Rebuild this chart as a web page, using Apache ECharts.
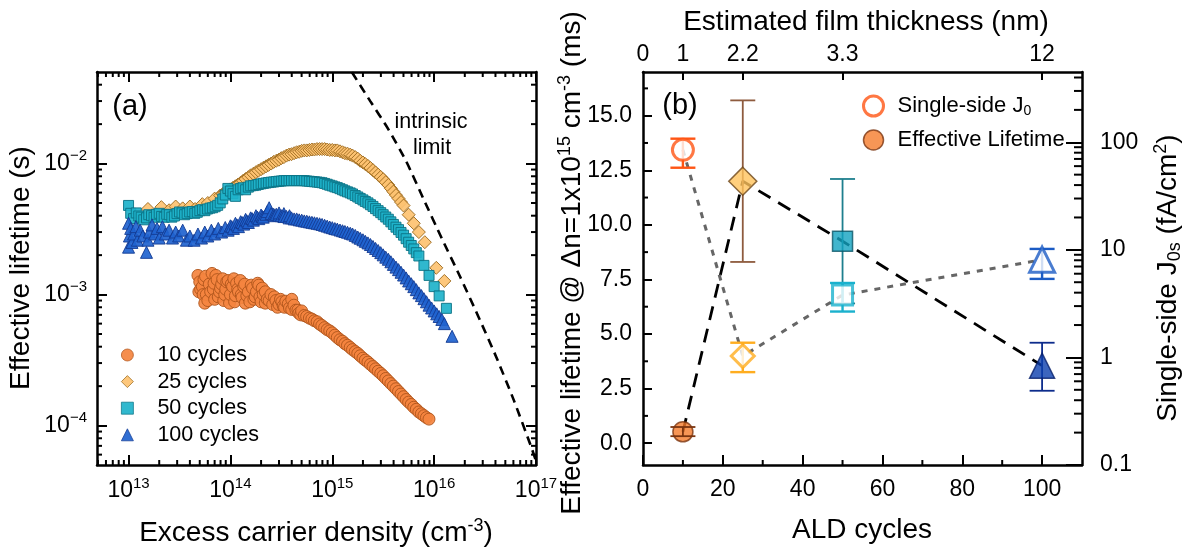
<!DOCTYPE html>
<html><head><meta charset="utf-8">
<script src="https://cdn.jsdelivr.net/npm/echarts@6.0.0/dist/echarts.min.js"></script>
<style>html,body{margin:0;padding:0;background:#fff}#c{width:1184px;height:553px}</style>
</head><body><div id="c"></div>
<script>
// ---------------- Panel (a): lifetime vs excess carrier density ----------------
const x10 = [4.8e13,4.9e13,5.0e13,5.3e13,5.5e13,5.6e13,5.8e13,6.2e13,6.6e13,6.8e13,7.0e13,7.4e13,7.8e13,8.2e13,8.6e13,9.0e13,9.5e13,1.0e14,1.05e14,1.1e14,1.15e14,1.2e14,1.3e14,1.35e14,1.4e14,1.5e14,1.6e14,1.7e14,1.8e14,1.9e14,2.0e14,2.1e14,2.3e14,2.5e14,2.6e14,2.8e14,3.0e14,3.2e14,3.4e14,3.7e14,4.0e14,4.0e14,4.4e14,4.7e14,5.0e14,5.6e14,6.3e14,7.1e14,7.9e14,8.9e14,1.0e15,1.12e15,1.26e15,1.41e15,1.58e15,1.78e15,2.0e15,2.24e15,2.51e15,2.82e15,3.16e15,3.55e15,3.98e15,4.47e15,5.01e15,5.62e15,6.31e15,7.08e15,7.94e15,8.9e15,
  5.1e13,5.4e13,5.7e13,6.0e13,6.4e13,6.9e13,7.2e13,7.6e13,8.0e13,8.4e13,8.8e13,9.2e13,9.8e13,1.02e14,1.08e14,1.12e14,1.18e14,1.25e14,1.28e14,1.38e14,1.45e14,1.55e14,1.65e14,1.75e14,1.85e14,1.95e14,2.05e14,2.2e14,2.2e14,2.4e14,2.7e14,2.9e14,3.1e14,3.3e14,3.5e14,3.8e14,4.2e14,4.6e14,4.9e14,
  5.31e14,5.96e14,6.68e14,7.50e14,8.41e14,9.44e14,1.06e15,1.19e15,1.33e15,1.50e15,1.68e15,1.88e15,2.11e15,2.37e15,2.66e15,2.99e15,3.35e15,3.76e15,4.22e15,4.73e15,5.31e15,5.96e15,6.68e15,7.50e15,8.41e15];
const y10 = [1.40e-3,1.05e-3,1.25e-3,1.15e-3,1.30e-3,8.6e-4,1.00e-3,1.20e-3,1.45e-3,1.10e-3,9.2e-4,1.30e-3,1.05e-3,1.20e-3,9.0e-4,1.10e-3,1.28e-3,1.00e-3,1.15e-3,8.8e-4,1.22e-3,1.05e-3,9.5e-4,1.15e-3,8.6e-4,1.05e-3,1.18e-3,9.2e-4,1.05e-3,1.18e-3,8.8e-4,1.00e-3,9.2e-4,1.00e-3,8.4e-4,9.0e-4,8.4e-4,8.8e-4,8.0e-4,8.5e-4,9.2e-4,7.7e-4,7.6e-4,7.2e-4,7.5e-4,6.8e-4,6.5e-4,6.2e-4,5.8e-4,5.4e-4,5.1e-4,4.7e-4,4.4e-4,4.1e-4,3.8e-4,3.55e-4,3.27e-4,3.05e-4,2.82e-4,2.6e-4,2.4e-4,2.19e-4,2.0e-4,1.82e-4,1.66e-4,1.51e-4,1.38e-4,1.27e-4,1.19e-4,1.12e-4,
  1.1e-3,1.0e-3,1.38e-3,9.0e-4,1.05e-3,1.22e-3,1.4e-3,9.6e-4,1.12e-3,1.32e-3,1.0e-3,1.25e-3,8.6e-4,1.2e-3,1.32e-3,9.8e-4,1.1e-3,1.28e-3,1.0e-3,1.2e-3,9.8e-4,8.8e-4,1.12e-3,9.6e-4,1.22e-3,9.6e-4,1.12e-3,8.6e-4,1.05e-3,9.0e-4,9.6e-4,8.0e-4,9.2e-4,8.2e-4,8.9e-4,7.9e-4,8.3e-4,7.6e-4,7.0e-4,
  6.92e-4,6.61e-4,6.31e-4,5.96e-4,5.59e-4,5.28e-4,4.90e-4,4.52e-4,4.22e-4,3.94e-4,3.67e-4,3.41e-4,3.16e-4,2.93e-4,2.71e-4,2.50e-4,2.29e-4,2.09e-4,1.91e-4,1.74e-4,1.58e-4,1.45e-4,1.33e-4,1.23e-4,1.15e-4];

const x25 = [1.55e13,2.1e13,2.5e13,2.9e13,3.4e13,4.0e13,4.5e13,5.3e13,6.0e13,7.0e13,7.94e13,8.91e13,1.0e14,1.12e14,1.26e14,1.41e14,1.58e14,1.78e14,2.0e14,2.24e14,2.51e14,2.82e14,3.16e14,3.55e14,3.98e14,4.47e14,5.01e14,5.62e14,6.31e14,7.08e14,7.94e14,8.91e14,1.0e15,1.12e15,1.26e15,1.41e15,1.58e15,1.78e15,2.0e15,2.24e15,2.51e15,2.82e15,3.16e15,3.55e15,3.98e15,4.47e15,5.01e15,5.62e15,6.31e15,7.08e15,8.1e15,1.05e16,1.26e16,
  8.41e13,9.44e13,1.06e14,1.19e14,1.33e14,1.50e14,1.68e14,1.88e14,2.11e14,2.37e14,2.66e14,2.99e14,3.35e14,3.76e14,4.22e14,4.73e14,5.31e14,5.96e14,6.68e14,7.50e14,8.41e14,9.44e14,1.06e15,1.19e15,1.33e15,1.50e15,1.68e15,1.88e15,2.11e15,2.37e15,2.66e15,2.99e15,3.35e15,3.76e15,4.22e15,4.73e15];
const y25 = [4.5e-3,4.65e-3,4.4e-3,4.7e-3,4.55e-3,4.7e-3,4.5e-3,4.9e-3,5.0e-3,5.4e-3,5.70e-3,6.03e-3,6.35e-3,6.71e-3,7.14e-3,7.62e-3,8.13e-3,8.59e-3,9.06e-3,9.53e-3,1.0e-2,1.05e-2,1.10e-2,1.15e-2,1.18e-2,1.22e-2,1.25e-2,1.26e-2,1.28e-2,1.29e-2,1.29e-2,1.28e-2,1.27e-2,1.26e-2,1.22e-2,1.19e-2,1.15e-2,1.09e-2,1.02e-2,9.59e-3,8.91e-3,8.22e-3,7.59e-3,6.87e-3,6.10e-3,5.41e-3,4.78e-3,4.07e-3,3.50e-3,3.00e-3,2.51e-3,1.6e-3,1.27e-3,
  5.86e-3,6.19e-3,6.53e-3,6.92e-3,7.38e-3,7.87e-3,8.36e-3,8.82e-3,9.29e-3,9.77e-3,1.03e-2,1.07e-2,1.12e-2,1.17e-2,1.20e-2,1.23e-2,1.26e-2,1.27e-2,1.28e-2,1.29e-2,1.29e-2,1.27e-2,1.26e-2,1.24e-2,1.20e-2,1.17e-2,1.12e-2,1.05e-2,9.91e-3,9.25e-3,8.55e-3,7.90e-3,7.21e-3,6.47e-3,5.74e-3,5.08e-3];

const x50 = [1.0e13,1.05e13,1.12e13,1.26e13,1.41e13,1.58e13,1.78e13,2.0e13,2.24e13,2.51e13,2.82e13,3.16e13,3.55e13,3.98e13,4.47e13,5.01e13,5.62e13,6.31e13,7.08e13,7.94e13,8.91e13,1.0e14,1.12e14,1.26e14,1.41e14,1.58e14,1.78e14,2.0e14,2.24e14,2.51e14,2.82e14,3.16e14,3.55e14,3.98e14,4.47e14,5.01e14,5.62e14,6.31e14,7.08e14,7.94e14,8.91e14,1.0e15,1.12e15,1.26e15,1.41e15,1.58e15,1.78e15,2.0e15,2.24e15,2.51e15,2.82e15,3.16e15,3.55e15,3.98e15,4.47e15,5.01e15,5.62e15,6.31e15,7.08e15,7.94e15,8.91e15,1.0e16,1.12e16,1.32e16,
  1.19e13,1.33e13,1.5e13,1.68e13,1.88e13,2.11e13,2.37e13,2.66e13,2.99e13,3.35e13,3.76e13,4.22e13,4.73e13,5.31e13,5.96e13,6.68e13,7.5e13,
  8.41e13,9.44e13,1.06e14,1.19e14,1.33e14,1.50e14,1.68e14,1.88e14,2.11e14,2.37e14,2.66e14,2.99e14,3.35e14,3.76e14,4.22e14,4.73e14,5.31e14,5.96e14,6.68e14,7.50e14,8.41e14,9.44e14,1.06e15,1.19e15,1.33e15,1.50e15,1.68e15,1.88e15,2.11e15,2.37e15,2.66e15,2.99e15,3.35e15,3.76e15,4.22e15,4.73e15,5.31e15,5.96e15,6.68e15];
const y50 = [4.79e-3,4.17e-3,3.80e-3,3.98e-3,3.72e-3,4.07e-3,3.89e-3,4.17e-3,3.89e-3,4.07e-3,3.98e-3,4.27e-3,4.07e-3,4.27e-3,4.17e-3,4.37e-3,4.37e-3,4.57e-3,4.68e-3,5.01e-3,5.75e-3,6.17e-3,5.62e-3,6.46e-3,6.31e-3,6.76e-3,6.84e-3,7.0e-3,7.11e-3,7.21e-3,7.29e-3,7.36e-3,7.41e-3,7.41e-3,7.41e-3,7.41e-3,7.36e-3,7.29e-3,7.23e-3,7.14e-3,6.95e-3,6.75e-3,6.55e-3,6.31e-3,6.08e-3,5.86e-3,5.56e-3,5.28e-3,5.01e-3,4.71e-3,4.37e-3,4.07e-3,3.76e-3,3.43e-3,3.13e-3,2.84e-3,2.51e-3,2.23e-3,1.97e-3,1.67e-3,1.40e-3,1.15e-3,9.77e-4,7.85e-4,
  4.2e-3,3.9e-3,3.85e-3,4.0e-3,4.1e-3,3.95e-3,4.1e-3,3.9e-3,4.15e-3,4.2e-3,4.15e-3,4.3e-3,4.25e-3,4.45e-3,4.5e-3,4.6e-3,4.8e-3,
  5.37e-3,6.46e-3,5.89e-3,6.31e-3,6.53e-3,6.61e-3,6.79e-3,6.92e-3,7.06e-3,7.16e-3,7.24e-3,7.33e-3,7.40e-3,7.41e-3,7.41e-3,7.41e-3,7.40e-3,7.33e-3,7.26e-3,7.19e-3,7.05e-3,6.84e-3,6.64e-3,6.43e-3,6.19e-3,5.97e-3,5.70e-3,5.42e-3,5.14e-3,4.85e-3,4.53e-3,4.22e-3,3.91e-3,3.59e-3,3.27e-3,2.98e-3,2.67e-3,2.37e-3,2.09e-3];

const x100 = [1.0e13,1.0e13,1.02e13,1.05e13,1.08e13,1.12e13,1.18e13,1.22e13,1.3e13,1.38e13,1.5e13,1.55e13,1.6e13,1.7e13,1.8e13,1.9e13,2.0e13,2.15e13,2.3e13,2.5e13,2.7e13,2.9e13,3.1e13,3.4e13,3.7e13,4.0e13,4.4e13,4.8e13,5.2e13,5.6e13,6.0e13,6.5e13,7.0e13,7.6e13,8.2e13,8.9e13,9.5e13,1.0e14,1.07e14,1.12e14,1.2e14,1.26e14,1.35e14,1.41e14,1.5e14,1.58e14,1.68e14,1.78e14,1.9e14,2.0e14,2.1e14,2.24e14,2.4e14,2.51e14,2.7e14,2.82e14,3.0e14,3.16e14,3.35e14,3.55e14,3.8e14,3.98e14,4.47e14,5.01e14,5.62e14,6.31e14,7.08e14,7.94e14,8.91e14,1.0e15,1.12e15,1.26e15,1.41e15,1.58e15,1.78e15,2.0e15,2.24e15,2.51e15,2.82e15,3.16e15,3.55e15,3.98e15,4.47e15,5.01e15,5.62e15,6.31e15,7.08e15,7.94e15,8.91e15,1.0e16,1.12e16,1.26e16,1.5e16,
  1.03e14,1.16e14,1.3e14,1.45e14,1.63e14,1.84e14,2.05e14,2.3e14,
  2.66e14,2.99e14,3.35e14,3.76e14,4.22e14,4.73e14,5.31e14,5.96e14,6.68e14,7.50e14,8.41e14,9.44e14,1.06e15,1.19e15,1.33e15,1.50e15,1.68e15,1.88e15,2.11e15,2.37e15,2.66e15,2.99e15,3.35e15,3.76e15,4.22e15,4.73e15,5.31e15,5.96e15,6.68e15,7.50e15,8.41e15,9.44e15,1.06e16,1.19e16];
const y100 = [3.5e-3,2.3e-3,2.8e-3,3.2e-3,2.5e-3,2.9e-3,3.3e-3,2.6e-3,3.1e-3,2.8e-3,2.1e-3,2.6e-3,3.0e-3,3.4e-3,2.9e-3,3.2e-3,2.7e-3,3.3e-3,2.9e-3,3.1e-3,2.7e-3,3.0e-3,2.8e-3,3.1e-3,2.6e-3,2.8e-3,2.6e-3,2.9e-3,2.7e-3,3.0e-3,2.8e-3,3.1e-3,2.9e-3,3.2e-3,3.0e-3,3.25e-3,3.1e-3,3.35e-3,3.2e-3,3.5e-3,3.3e-3,3.6e-3,3.45e-3,3.75e-3,3.55e-3,3.85e-3,3.7e-3,4.0e-3,3.8e-3,4.05e-3,3.9e-3,4.1e-3,4.6e-3,4.15e-3,4.0e-3,4.1e-3,4.2e-3,4.0e-3,4.15e-3,3.95e-3,4.0e-3,3.85e-3,3.78e-3,3.7e-3,3.63e-3,3.56e-3,3.5e-3,3.43e-3,3.33e-3,3.24e-3,3.16e-3,3.07e-3,2.99e-3,2.9e-3,2.75e-3,2.62e-3,2.48e-3,2.33e-3,2.17e-3,2.01e-3,1.86e-3,1.70e-3,1.55e-3,1.41e-3,1.27e-3,1.15e-3,1.03e-3,9.3e-4,8.3e-4,7.5e-4,6.8e-4,6.0e-4,4.8e-4,
  3.3e-3,3.4e-3,3.55e-3,3.65e-3,3.8e-3,3.9e-3,3.95e-3,4.3e-3,
  4.10e-3,4.03e-3,3.94e-3,3.85e-3,3.78e-3,3.72e-3,3.65e-3,3.59e-3,3.53e-3,3.47e-3,3.38e-3,3.28e-3,3.19e-3,3.11e-3,3.03e-3,2.94e-3,2.83e-3,2.69e-3,2.55e-3,2.41e-3,2.25e-3,2.09e-3,1.93e-3,1.78e-3,1.62e-3,1.48e-3,1.34e-3,1.21e-3,1.09e-3,9.82e-4,8.81e-4,7.90e-4,7.13e-4,6.46e-4];

const xIntrinsic = [1.56e15,2.35e15,3.52e15,5.30e15,7.94e15,1.19e16,1.79e16,2.70e16,4.05e16,6.08e16,9.14e16,1.0e17];
const yIntrinsic = [4.98e-2,3.01e-2,1.85e-2,1.045e-2,5.28e-3,2.68e-3,1.38e-3,6.87e-4,3.37e-4,1.55e-4,6.6e-5,5.37e-5];

const seriesNamesA = ['10 cycles','25 cycles','50 cycles','100 cycles'];
const xTicksA = [1e13,1e14,1e15,1e16,1e17];
const yTicksA = [1e-4,1e-3,1e-2];

// ---------------- Panel (b): ALD cycles ----------------
const cycles = [10, 25, 50, 100];
const lifetime = [0.52, 12.0, 9.25, 3.55];
const lifetimeLow = [0.32, 8.3, 6.4, 2.4];
const lifetimeHigh = [0.74, 15.7, 12.1, 4.6];
const j0 = [85, 1.03, 3.8, 8.1];
const j0Low = [58, 0.73, 2.67, 5.37];
const j0High = [108, 1.37, 4.92, 10.2];
const thicknessCycles = [0, 10, 25, 50, 100];
const thicknessLabels = ['0', '1', '2.2', '3.3', '12'];
const xTicksB = [0, 20, 40, 60, 80, 100];
const yTicksB = [0, 2.5, 5, 7.5, 10, 12.5, 15];
const yTicksBRight = [0.1, 1, 10, 100];
const seriesNamesB = ['Single-side J0', 'Effective Lifetime'];

// ---------------- styling ----------------
const FONT = "'Liberation Sans', Arial, Helvetica, sans-serif";
const X_A = [4.9e12, 1e17], Y_A = [5e-5, 5e-2];
const X_B = [0, 110], Y_B = [-1, 17], Y_BR = [0.1, 450];
const symA = ['circle','diamond','rect','triangle'];
const sizeA = [12, 13, 10, 12];
const fillA = ['#F4843F','#FDC271','#1EB2CA','#1F63CF'];
const edgeA = ['#B0561C','#9C6A1E','#0C7385','#143C94'];
const symB = ['circle','diamond','rect','triangle'];
const j0Size = [21, 23, 20, 25];
const ltSize = [20, 28, 20, 25];
const j0Color = ['#FF5514','#FFAD1F','#1AB1CD','#1B5BC4'];
const ltFill = ['#F57C2C','#FFC35C','#12A3C1','#0B3FAE'];
const ltEdge = ['#7B3510','#6B4518','#0B5566','#061F6B'];
const ltErrColor = ['#7B3510','#8E5B3E','#1E7F8E','#0D2C8C'];
const ltErrOnTop = [true, false, false, false];

const pairs = (xs, ys) => xs.map((x, i) => [x, ys[i]]);
const black = '#000';

function ln(x1, y1, x2, y2, w) {
  return { type: 'line', shape: { x1, y1, x2, y2 }, style: { stroke: black, lineWidth: w || 2 } };
}

function minorA(params, api) {
  const cs = params.coordSys; const kids = []; const L = 5;
  for (let e = 12; e <= 16; e++) for (let m = 2; m <= 9; m++) {
    const v = m * Math.pow(10, e); if (v <= X_A[0] || v >= X_A[1]) continue;
    const px = api.coord([v, Y_A[0]])[0];
    kids.push(ln(px, cs.y + cs.height, px, cs.y + cs.height - L));
    kids.push(ln(px, cs.y, px, cs.y + L));
  }
  for (let e = -5; e <= -2; e++) for (let m = 2; m <= 9; m++) {
    const v = m * Math.pow(10, e); if (v <= Y_A[0] || v >= Y_A[1]) continue;
    const py = api.coord([X_A[0], v])[1];
    kids.push(ln(cs.x, py, cs.x + L, py));
    kids.push(ln(cs.x + cs.width, py, cs.x + cs.width - L, py));
  }
  return { type: 'group', children: kids };
}

function minorB(params, api) {
  const cs = params.coordSys; const kids = [];
  for (let i = 0; i < xTicksB.length - 1; i++) {
    const v = (xTicksB[i] + xTicksB[i + 1]) / 2;
    const px = api.coord([v, 0])[0];
    kids.push(ln(px, cs.y + cs.height, px, cs.y + cs.height - 5));
  }
  for (let v = 1.25; v < Y_B[1]; v += 2.5) {
    const py = api.coord([0, v])[1];
    kids.push(ln(cs.x, py, cs.x + 5, py));
  }
  return { type: 'group', children: kids };
}

function minorBRight(params, api) {
  const cs = params.coordSys; const kids = [];
  for (let e = -1; e <= 2; e++) for (let m = 2; m <= 9; m++) {
    const v = m * Math.pow(10, e); if (v >= Y_BR[1]) continue;
    const py = api.coord([0, v])[1];
    kids.push(ln(cs.x + cs.width, py, cs.x + cs.width - 8, py));
  }
  return { type: 'group', children: kids };
}

function errRender(colors, width, filter) {
  return function (params, api) {
    const i = params.dataIndex;
    if (filter && !filter(i)) return null;
    const x = api.value(0), lo = api.value(1), hi = api.value(2);
    const a = api.coord([x, lo]), b = api.coord([x, hi]); const h = 12.5;
    const st = { stroke: colors[i], lineWidth: width };
    return { type: 'group', children: [
      { type: 'line', shape: { x1: a[0], y1: a[1], x2: b[0], y2: b[1] }, style: st },
      { type: 'line', shape: { x1: a[0] - h, y1: a[1], x2: a[0] + h, y2: a[1] }, style: st },
      { type: 'line', shape: { x1: b[0] - h, y1: b[1], x2: b[0] + h, y2: b[1] }, style: st }
    ] };
  };
}

const axisLineStyle = { onZero: false, lineStyle: { color: black, width: 2.5 } };
const supRich = {
  b: { fontSize: 23, fontFamily: FONT, color: black, lineHeight: 30 },
  s: { fontSize: 15, fontFamily: FONT, color: black, lineHeight: 16, verticalAlign: 'top' }
};
const plainLabel = { fontSize: 23, fontFamily: FONT, color: black, lineHeight: 26 };

const option = {
  animation: false,
  backgroundColor: '#fff',
  grid: [
    { left: 97, top: 72, width: 439, height: 393, containLabel: false, outerBoundsMode: 'none' },
    { left: 643, top: 72, width: 439, height: 393, containLabel: false, outerBoundsMode: 'none' }
  ],
  xAxis: [
    { type: 'log', gridIndex: 0, min: X_A[0], max: X_A[1], position: 'bottom',
      axisLine: axisLineStyle, splitLine: { show: false },
      axisTick: { inside: true, length: 10, lineStyle: { width: 2, color: black }, customValues: xTicksA },
      axisLabel: { customValues: xTicksA, margin: 11, rich: supRich,
        formatter: v => '{b|10}{s|' + Math.round(Math.log10(v)) + '}' } },
    { type: 'log', gridIndex: 0, min: X_A[0], max: X_A[1], position: 'top',
      axisLine: axisLineStyle, splitLine: { show: false },
      axisTick: { inside: true, length: 10, lineStyle: { width: 2, color: black }, customValues: xTicksA },
      axisLabel: { show: false } },
    { type: 'value', gridIndex: 1, min: X_B[0], max: X_B[1], position: 'bottom',
      axisLine: axisLineStyle, splitLine: { show: false },
      axisTick: { inside: true, length: 10, lineStyle: { width: 2, color: black }, customValues: xTicksB },
      axisLabel: Object.assign({ customValues: xTicksB, margin: 12 }, plainLabel) },
    { type: 'value', gridIndex: 1, min: X_B[0], max: X_B[1], position: 'top',
      axisLine: axisLineStyle, splitLine: { show: false },
      axisTick: { inside: true, length: 8, lineStyle: { width: 2, color: black }, customValues: thicknessCycles.slice(1) },
      axisLabel: Object.assign({ customValues: thicknessCycles, margin: 4,
        formatter: v => thicknessLabels[thicknessCycles.indexOf(v)] }, plainLabel) }
  ],
  yAxis: [
    { type: 'log', gridIndex: 0, min: Y_A[0], max: Y_A[1], position: 'left',
      axisLine: axisLineStyle, splitLine: { show: false },
      axisTick: { inside: true, length: 10, lineStyle: { width: 2, color: black }, customValues: yTicksA },
      axisLabel: { customValues: yTicksA, margin: 10, rich: supRich,
        formatter: v => '{b|10}{s|\u2212' + Math.round(-Math.log10(v)) + '}' } },
    { type: 'log', gridIndex: 0, min: Y_A[0], max: Y_A[1], position: 'right',
      axisLine: axisLineStyle, splitLine: { show: false },
      axisTick: { inside: true, length: 10, lineStyle: { width: 2, color: black }, customValues: yTicksA },
      axisLabel: { show: false } },
    { type: 'value', gridIndex: 1, min: Y_B[0], max: Y_B[1], position: 'left',
      axisLine: axisLineStyle, splitLine: { show: false },
      axisTick: { inside: true, length: 9, lineStyle: { width: 2, color: black }, customValues: yTicksB },
      axisLabel: Object.assign({ customValues: yTicksB, margin: 11, formatter: v => v.toFixed(1) }, plainLabel) },
    { type: 'log', gridIndex: 1, min: Y_BR[0], max: Y_BR[1], position: 'right',
      axisLine: axisLineStyle, splitLine: { show: false },
      axisTick: { inside: true, length: 16, lineStyle: { width: 2, color: black }, customValues: yTicksBRight },
      axisLabel: Object.assign({ customValues: yTicksBRight, margin: 18,
        formatter: v => (v < 1 ? v.toFixed(1) : String(Math.round(v))) }, plainLabel) }
  ],
  legend: [
    { orient: 'vertical', left: 121, top: 344, padding: 0, itemWidth: 12, itemHeight: 12, itemGap: 4.6,
      selectedMode: false,
      textStyle: { fontSize: 21.5, lineHeight: 22, fontFamily: FONT, color: black, padding: [0, 0, 0, 19] },
      data: seriesNamesA.map((n, i) => ({ name: n, icon: symA[i],
        itemStyle: { color: fillA[i], borderColor: edgeA[i], borderWidth: 0.8 } })) },
    { orient: 'vertical', left: 862, top: 94, padding: 0, itemWidth: 20, itemHeight: 20, itemGap: 10,
      selectedMode: false,
      textStyle: { fontSize: 22, lineHeight: 24, fontFamily: FONT, color: black, padding: [0, 0, 0, 9],
        rich: { sub: { fontSize: 14, fontFamily: FONT, color: black, lineHeight: 14, verticalAlign: 'bottom' } } },
      formatter: n => (n === seriesNamesB[0] ? 'Single-side J{sub|0}' : n),
      data: [
        { name: seriesNamesB[0], icon: 'circle', itemStyle: { color: '#fff', borderColor: j0Color[0], borderWidth: 3 } },
        { name: seriesNamesB[1], icon: 'circle', itemStyle: { color: ltFill[0], borderColor: ltEdge[0], borderWidth: 1.5 } }
      ] }
  ],
  series: [
    { type: 'custom', name: 'minorA', xAxisIndex: 0, yAxisIndex: 0, silent: true, z: 1, clip: false,
      data: [[1e15, 1e-3]], renderItem: minorA },
    { type: 'custom', name: 'minorB', xAxisIndex: 2, yAxisIndex: 2, silent: true, z: 1, clip: false,
      data: [[50, 5]], renderItem: minorB },
    { type: 'custom', name: 'minorBRight', xAxisIndex: 2, yAxisIndex: 3, silent: true, z: 1, clip: false,
      data: [[50, 1]], renderItem: minorBRight },
    ...[[x10, y10], [x25, y25], [x50, y50], [x100, y100]].map((xy, i) => ({
      type: 'scatter', name: seriesNamesA[i], xAxisIndex: 0, yAxisIndex: 0, z: 3 + i,
      data: pairs(xy[0], xy[1]).sort((p, q) => p[0] - q[0]), symbol: symA[i], symbolSize: sizeA[i],
      itemStyle: { color: fillA[i], borderColor: edgeA[i], borderWidth: 1, opacity: 0.92 }
    })),
    { type: 'line', name: 'intrinsic limit', xAxisIndex: 0, yAxisIndex: 0, z: 8, silent: true,
      data: pairs(xIntrinsic, yIntrinsic), symbol: 'none', smooth: 0.2,
      lineStyle: { color: black, width: 2.6, type: [9, 6] } },
    { type: 'line', name: 'lifetime line', xAxisIndex: 2, yAxisIndex: 2, z: 2, silent: true,
      data: pairs(cycles, lifetime), symbol: 'none',
      lineStyle: { color: black, width: 2.8, type: [14, 9] } },
    { type: 'line', name: 'j0 line', xAxisIndex: 2, yAxisIndex: 3, z: 2, silent: true,
      data: pairs(cycles, j0), symbol: 'none',
      lineStyle: { color: '#666', width: 3, type: [6, 7] } },
    { type: 'custom', name: 'lifetime err', xAxisIndex: 2, yAxisIndex: 2, z: 3, silent: true,
      data: cycles.map((c, i) => [c, lifetimeLow[i], lifetimeHigh[i]]), encode: { x: 0, y: [1, 2] },
      renderItem: errRender(ltErrColor, 1.8, i => !ltErrOnTop[i]) },
    { type: 'custom', name: 'j0 err', xAxisIndex: 2, yAxisIndex: 3, z: 3, silent: true,
      data: cycles.map((c, i) => [c, j0Low[i], j0High[i]]), encode: { x: 0, y: [1, 2] },
      renderItem: errRender(j0Color, 2.4) },
    { type: 'scatter', name: seriesNamesB[0], xAxisIndex: 2, yAxisIndex: 3, z: 4,
      symbol: 'circle', itemStyle: { color: '#fff', borderColor: j0Color[0], borderWidth: 3 },
      data: cycles.map((c, i) => ({ value: [c, j0[i]], symbol: symB[i], symbolSize: j0Size[i],
        itemStyle: { color: '#fff', borderColor: j0Color[i], borderWidth: 3 } })) },
    { type: 'scatter', name: seriesNamesB[1], xAxisIndex: 2, yAxisIndex: 2, z: 4,
      symbol: 'circle', itemStyle: { color: ltFill[0], borderColor: ltEdge[0], borderWidth: 1.5 },
      data: cycles.map((c, i) => ({ value: [c, lifetime[i]], symbol: symB[i], symbolSize: ltSize[i],
        itemStyle: { color: ltFill[i], borderColor: ltEdge[i], borderWidth: 1.5 } })) },
    { type: 'custom', name: 'lifetime err top', xAxisIndex: 2, yAxisIndex: 2, z: 5, silent: true,
      data: cycles.map((c, i) => [c, lifetimeLow[i], lifetimeHigh[i]]), encode: { x: 0, y: [1, 2] },
      renderItem: errRender(ltErrColor, 1.8, i => ltErrOnTop[i]) }
  ],
  graphic: [
    { type: 'text', x: 21, y: 268, rotation: Math.PI / 2,
      style: { text: 'Effective lifetime (s)', fontSize: 28, fontFamily: FONT, fill: black, align: 'center', verticalAlign: 'middle' } },
    { type: 'text', x: 316, y: 533,
      style: { text: 'Excess carrier density (cm{sup|-3})', fontSize: 28, lineHeight: 32, fontFamily: FONT, fill: black,
        align: 'center', verticalAlign: 'middle',
        rich: { sup: { fontSize: 18, lineHeight: 18, verticalAlign: 'top', fontFamily: FONT, fill: black } } } },
    { type: 'text', x: 130, y: 107,
      style: { text: '(a)', fontSize: 29, fontFamily: FONT, fill: black, align: 'center', verticalAlign: 'middle' } },
    { type: 'text', x: 431, y: 122,
      style: { text: 'intrinsic', fontSize: 21.5, fontFamily: FONT, fill: black, align: 'center', verticalAlign: 'middle' } },
    { type: 'text', x: 432, y: 148,
      style: { text: 'limit', fontSize: 21.5, fontFamily: FONT, fill: black, align: 'center', verticalAlign: 'middle' } },
    { type: 'text', x: 680, y: 106,
      style: { text: '(b)', fontSize: 29, fontFamily: FONT, fill: black, align: 'center', verticalAlign: 'middle' } },
    { type: 'text', x: 862, y: 530,
      style: { text: 'ALD cycles', fontSize: 28, fontFamily: FONT, fill: black, align: 'center', verticalAlign: 'middle' } },
    { type: 'text', x: 866, y: 22,
      style: { text: 'Estimated film thickness (nm)', fontSize: 28, fontFamily: FONT, fill: black, align: 'center', verticalAlign: 'middle' } },
    { type: 'text', x: 572, y: 263, rotation: Math.PI / 2,
      style: { text: 'Effective lifetime @ \u0394n=1x10{sup|15} cm{sup|-3} (ms)', fontSize: 28, lineHeight: 32, fontFamily: FONT, fill: black,
        align: 'center', verticalAlign: 'middle',
        rich: { sup: { fontSize: 18, lineHeight: 18, verticalAlign: 'top', fontFamily: FONT, fill: black } } } },
    { type: 'text', x: 1168, y: 278, rotation: Math.PI / 2,
      style: { text: 'Single-side J{sub|0s} (fA/cm{sup|2})', fontSize: 28, lineHeight: 32, fontFamily: FONT, fill: black,
        align: 'center', verticalAlign: 'middle',
        rich: { sup: { fontSize: 18, lineHeight: 18, verticalAlign: 'top', fontFamily: FONT, fill: black },
                sub: { fontSize: 18, lineHeight: 22, verticalAlign: 'bottom', fontFamily: FONT, fill: black } } } }
  ]
};

const chart = echarts.init(document.getElementById('c'));
chart.setOption(option);
</script>
</body></html>
